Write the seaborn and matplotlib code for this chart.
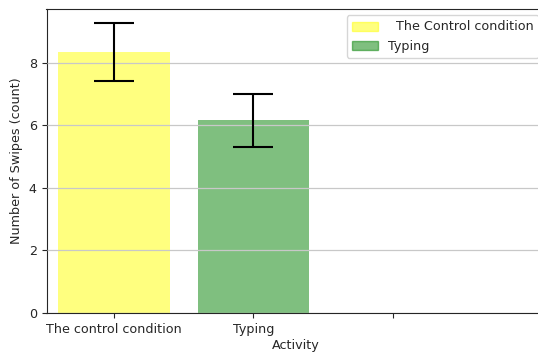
import matplotlib
matplotlib.use('Agg')
import seaborn as sns
import matplotlib.pyplot as plt

# значения
activities = ['The control condition', 'Typing']
legend_labels = ['  The Control condition', 'Typing']
swipes_mean = [8.33, 6.15]
swipes_err = [0.92, 0.86]
tick_labels = ['The control condition', 'Typing', '']
bar_colors = ['yellow', 'green']

sns.set_style('ticks')
plt.rcParams['font.size'] = 9.2
fig = plt.figure(figsize=(5.38, 3.57), dpi=100)
ax = fig.add_axes([46.5 / 538, 44 / 357, (546 - 46.5) / 538, 304 / 357])

sns.barplot(x=activities, y=swipes_mean, hue=legend_labels, palette=bar_colors,
            alpha=0.5, width=0.8, dodge=False, legend=False, saturation=1, ax=ax)
for p in ax.patches:
    p.set_linewidth(0)

ax.errorbar([0, 1], swipes_mean, yerr=swipes_err, fmt='none', ecolor='black',
            capsize=14.4, elinewidth=1.5, capthick=1.5, zorder=5)

handles = [plt.Rectangle((0, 0), 1, 1, facecolor=c, edgecolor=c, alpha=0.5, linewidth=1)
           for c in bar_colors]
ax.legend(handles, legend_labels, loc='upper right', bbox_to_anchor=(0.998, 1),
          fontsize=9.2, framealpha=0.8)

ax.set_xticks([0, 1, 2])
ax.set_xticklabels(tick_labels, fontsize=9.2)
ax.tick_params(axis='y', labelsize=9.2)
ax.set_xlim(-0.485, 3.1)
ax.set_ylim(0, 9.71)
ax.set_yticks([0, 2, 4, 6, 8])
ax.yaxis.grid(True, color='#c8c8c8', linewidth=0.9)
ax.set_axisbelow(False)
ax.set_xlabel('Activity', labelpad=2, fontsize=9.2)
ax.set_ylabel('Number of Swipes (count)', fontsize=9.2)
ax.spines['right'].set_visible(False)

fig.savefig('out.png', dpi=100)
